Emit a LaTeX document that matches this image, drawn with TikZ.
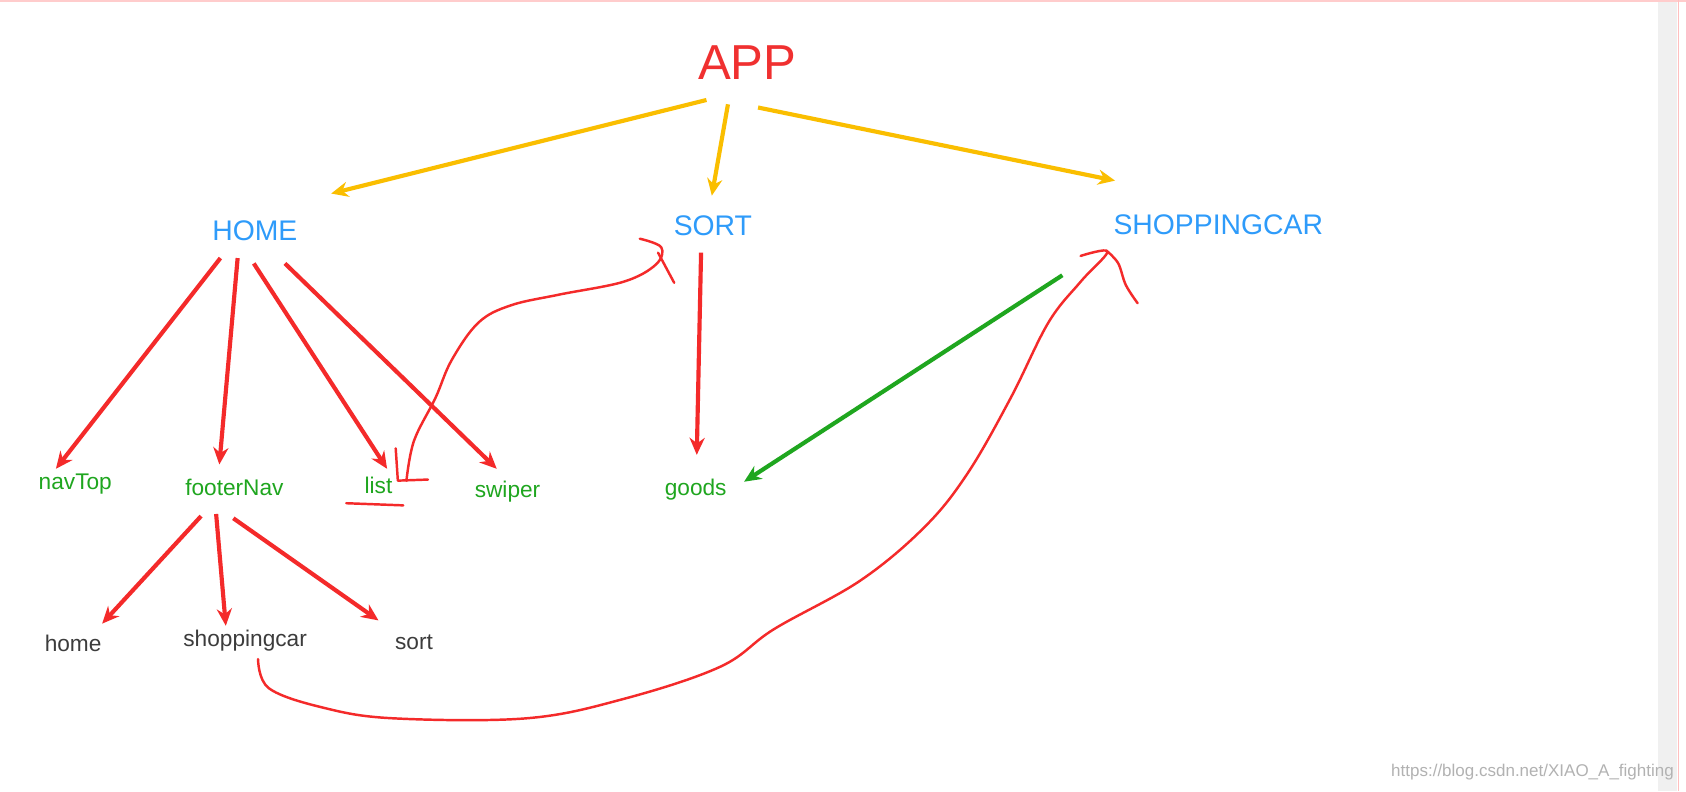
\documentclass[tikz,border=0pt]{standalone}
\usepackage{fontspec}
\setmainfont{Liberation Sans}
\usetikzlibrary{arrows.meta}
\definecolor{appred}{HTML}{F03030}
\definecolor{blu}{HTML}{2E9BFA}
\definecolor{grn}{HTML}{1FA61F}
\definecolor{gry}{HTML}{3C3C3C}
\definecolor{yel}{HTML}{FABE00}
\definecolor{pen}{HTML}{F42A2A}
\tikzset{
 lvl1/.style={text=blu,font=\fontsize{15}{15}\selectfont,inner sep=0},
 lvl2/.style={text=grn,font=\fontsize{12}{12}\selectfont,inner sep=0},
 lvl3/.style={text=gry,font=\fontsize{12}{12}\selectfont,inner sep=0},
 yarrow/.style={draw=yel,line width=2.2pt,-{Stealth[length=9pt,width=8pt]}},
 rarrow/.style={draw=pen,line width=2.2pt,-{Stealth[length=9pt,width=8pt]}},
 garrow/.style={draw=grn,line width=2.2pt,-{Stealth[length=9pt,width=8pt]}},
 pencil/.style={draw=pen,line width=1.3pt,line cap=round,line join=round}
}
\begin{document}
\begin{tikzpicture}[x=0.02cm,y=-0.02cm]
\useasboundingbox (0,0) rectangle (1568,736);
\fill[white] (0,0) rectangle (1568,736);
\fill[black!6] (1542,2) rectangle (1560,736);
\draw[red!20,line width=1pt] (0,1) -- (1568,1);
\draw[red!25,line width=1pt] (1561,0) -- (1561,736);
\node[text=appred,font=\fontsize{26}{26}\selectfont,inner sep=0] (app) at (695,58) {APP};
\node[lvl1] (home) at (237,215) {HOME};
\node[lvl1] (sort) at (663,210) {SORT};
\node[lvl1] (shop) at (1133,209) {SHOPPINGCAR};
\node[lvl2] (navtop) at (70,450) {navTop};
\node[lvl2] (footer) at (218,453) {footerNav};
\node[lvl2] (list) at (352,451) {list};
\node[lvl2] (swiper) at (472,457) {swiper};
\node[lvl2] (goods) at (647,455) {goods};
\node[lvl3] (h2) at (68,598) {home};
\node[lvl3] (s2) at (228,596) {shoppingcar};
\node[lvl3] (so2) at (385,597) {sort};
\node[text=black!30,font=\fontsize{9}{9}\selectfont,inner sep=0,anchor=east] (wm) at (1557,718) {https://blog.csdn.net/XIAO\_A\_fighting};
\coordinate (a1) at (657,93); \coordinate (a1e) at (308,180);
\coordinate (a2) at (677,97); \coordinate (a2e) at (662,182);
\coordinate (a3) at (705,100); \coordinate (a3e) at (1037,168);
\draw[yarrow] (a1) -- (a1e);
\draw[yarrow] (a2) -- (a2e);
\draw[yarrow] (a3) -- (a3e);
\draw[rarrow] (205,240) -- (52,436);
\draw[rarrow] (221,240) -- (204,432);
\draw[rarrow] (236,245) -- (360,436);
\draw[rarrow] (265,245) -- (462,436);
\draw[rarrow] (652,235) -- (648,423);
\draw[garrow] (988,256) -- (692,448);
\draw[rarrow] (187,480) -- (95,580);
\draw[rarrow] (201,478) -- (210,582);
\draw[rarrow] (217,482) -- (352,577);
\draw[pencil] (368,417) -- (370,447) -- (398,446);
\draw[pencil] (322,468) -- (375,470);
\draw[pencil] plot[smooth,tension=0.6] coordinates {(378,447) (385,410) (405,370) (420,335) (445,300) (475,284) (520,274) (580,262) (610,246) (615,230) (595,222)};
\draw[pencil] (612,235) -- (627,263);
\draw[pencil] plot[smooth,tension=0.6] coordinates {(240,613) (250,640) (300,658) (365,668) (490,668) (580,650) (670,620) (720,585) (800,540) (860,490) (900,440) (940,370) (975,300) (1005,262) (1030,234) (1005,238)};
\draw[pencil] plot[smooth,tension=0.6] coordinates {(1030,234) (1040,245) (1047,265) (1058,282)};
\end{tikzpicture}
\end{document}
